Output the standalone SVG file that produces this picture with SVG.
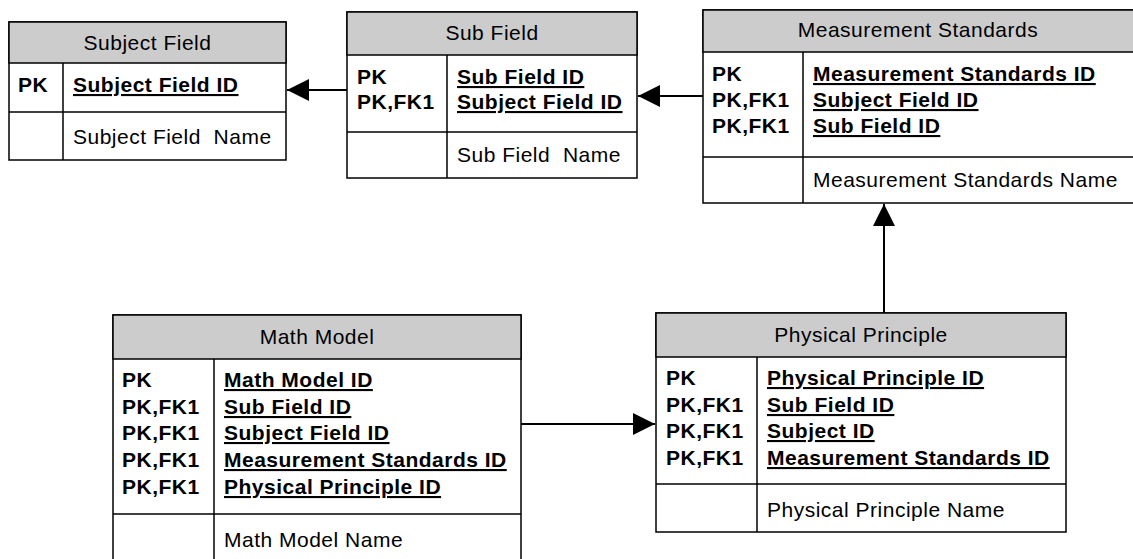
<svg xmlns="http://www.w3.org/2000/svg" width="1133" height="559" viewBox="0 0 1133 559">
  <style>
    .box { fill: #ffffff; stroke: #000000; stroke-width: 1.5; }
    .head { fill: #cccccc; stroke: #000000; stroke-width: 1.5; }
    .sep { stroke: #000000; stroke-width: 1.5; fill: none; }
    text { font-family: "Liberation Sans", Arial, sans-serif; font-size: 21px; letter-spacing: 0.5px; fill: #000000; }
    .title { text-anchor: middle; }
    .key { font-weight: bold; }
    .pk { font-weight: bold; text-decoration: underline; }
    .link { stroke: #000000; stroke-width: 2; fill: none; marker-end: url(#arrow); }
  </style>
  <defs>
    <marker id="arrow" markerUnits="userSpaceOnUse" markerWidth="22" markerHeight="24" refX="22" refY="12" orient="auto">
      <path d="M0,1 L22,12 L0,23 Z" fill="#000000"/>
    </marker>
  </defs>

  <!-- Subject Field -->
  <g id="subject-field">
    <rect class="box" x="9" y="22" width="277" height="138"/>
    <rect class="head" x="9" y="22" width="277" height="41"/>
    <line class="sep" x1="63" y1="63" x2="63" y2="160"/>
    <line class="sep" x1="9" y1="112" x2="286" y2="112"/>
    <text class="title" x="147.5" y="50">Subject Field</text>
    <text class="key" x="18" y="92">PK</text>
    <text class="pk" x="73" y="92">Subject Field ID</text>
    <text x="73" y="144">Subject Field&#160; Name</text>
  </g>

  <!-- Sub Field -->
  <g id="sub-field">
    <rect class="box" x="347" y="12" width="290" height="166"/>
    <rect class="head" x="347" y="12" width="290" height="43"/>
    <line class="sep" x1="447" y1="55" x2="447" y2="178"/>
    <line class="sep" x1="347" y1="132" x2="637" y2="132"/>
    <text class="title" x="492" y="40">Sub Field</text>
    <text class="key" x="357" y="84">PK</text>
    <text class="key" x="357" y="109">PK,FK1</text>
    <text class="pk" x="457" y="84">Sub Field ID</text>
    <text class="pk" x="457" y="109">Subject Field ID</text>
    <text x="457" y="162">Sub Field&#160; Name</text>
  </g>

  <!-- Measurement Standards -->
  <g id="measurement-standards">
    <rect class="box" x="703" y="10" width="440" height="193"/>
    <rect class="head" x="703" y="10" width="440" height="42"/>
    <line class="sep" x1="803" y1="52" x2="803" y2="203"/>
    <line class="sep" x1="703" y1="157" x2="1143" y2="157"/>
    <text class="title" x="918" y="37">Measurement Standards</text>
    <text class="key" x="712" y="81">PK</text>
    <text class="key" x="712" y="107">PK,FK1</text>
    <text class="key" x="712" y="133">PK,FK1</text>
    <text class="pk" x="813" y="81">Measurement Standards ID</text>
    <text class="pk" x="813" y="107">Subject Field ID</text>
    <text class="pk" x="813" y="133">Sub Field ID</text>
    <text x="813" y="187">Measurement Standards Name</text>
  </g>

  <!-- Math Model -->
  <g id="math-model">
    <rect class="box" x="113" y="315" width="408" height="250"/>
    <rect class="head" x="113" y="315" width="408" height="44"/>
    <line class="sep" x1="214" y1="359" x2="214" y2="565"/>
    <line class="sep" x1="113" y1="514" x2="521" y2="514"/>
    <text class="title" x="317" y="344">Math Model</text>
    <text class="key" x="122" y="387">PK</text>
    <text class="key" x="122" y="414">PK,FK1</text>
    <text class="key" x="122" y="440">PK,FK1</text>
    <text class="key" x="122" y="467">PK,FK1</text>
    <text class="key" x="122" y="494">PK,FK1</text>
    <text class="pk" x="224" y="387">Math Model ID</text>
    <text class="pk" x="224" y="414">Sub Field ID</text>
    <text class="pk" x="224" y="440">Subject Field ID</text>
    <text class="pk" x="224" y="467">Measurement Standards ID</text>
    <text class="pk" x="224" y="494">Physical Principle ID</text>
    <text x="224" y="547">Math Model Name</text>
  </g>

  <!-- Physical Principle -->
  <g id="physical-principle">
    <rect class="box" x="656" y="313" width="410" height="219"/>
    <rect class="head" x="656" y="313" width="410" height="44"/>
    <line class="sep" x1="757" y1="357" x2="757" y2="532"/>
    <line class="sep" x1="656" y1="484" x2="1066" y2="484"/>
    <text class="title" x="861" y="342">Physical Principle</text>
    <text class="key" x="666" y="385">PK</text>
    <text class="key" x="666" y="412">PK,FK1</text>
    <text class="key" x="666" y="438">PK,FK1</text>
    <text class="key" x="666" y="465">PK,FK1</text>
    <text class="pk" x="767" y="385">Physical Principle ID</text>
    <text class="pk" x="767" y="412">Sub Field ID</text>
    <text class="pk" x="767" y="438">Subject ID</text>
    <text class="pk" x="767" y="465">Measurement Standards ID</text>
    <text x="767" y="517">Physical Principle Name</text>
  </g>

  <!-- Relationships -->
  <g id="connectors">
    <path class="link" d="M347,90 L287,90"/>
    <path class="link" d="M703,96 L638,96"/>
    <path class="link" d="M884,313 L884,204"/>
    <path class="link" d="M521,424 L655,424"/>
  </g>
</svg>
